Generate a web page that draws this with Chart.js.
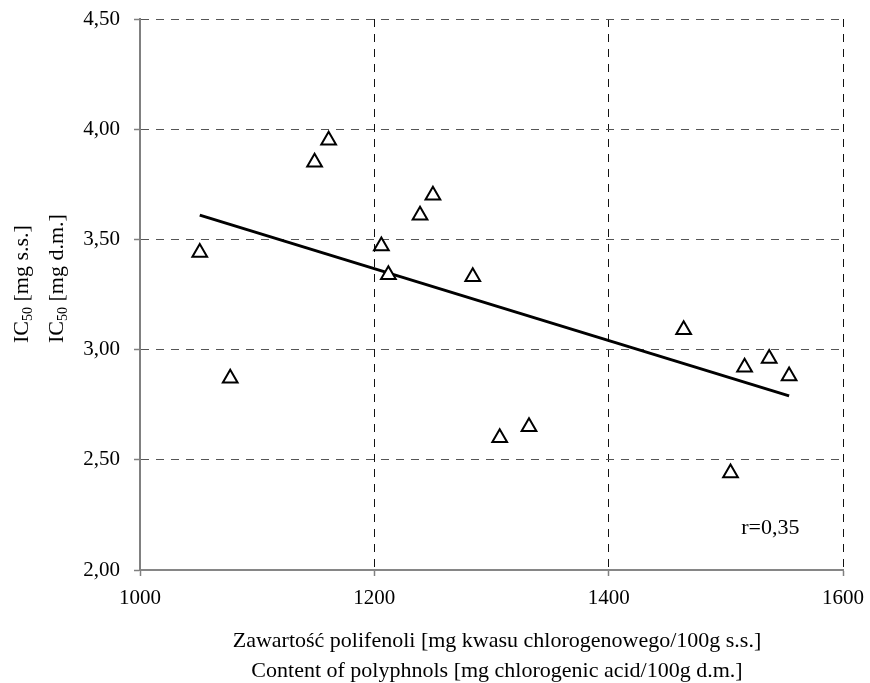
<!DOCTYPE html>
<html>
<head>
<meta charset="utf-8">
<script src="https://cdn.jsdelivr.net/npm/chart.js@4/dist/chart.umd.min.js"></script>
<style>
    body { margin: 0; background: #fff; }
    #can { width: 870px; height: 683px; }
</style>
</head>
<body>
<div id="can"><canvas id="myChart" width="870" height="683"></canvas></div>
<script>
    // polyphenol content (x) and IC50 (y)
    let xValues = [1051, 1077, 1149, 1161, 1206, 1212, 1239, 1250, 1284, 1307, 1332, 1464, 1504, 1516, 1537, 1554];
    let yValues = [3.44, 2.87, 3.85, 3.95, 3.47, 3.34, 3.61, 3.70, 3.33, 2.60, 2.65, 3.09, 2.44, 2.92, 2.96, 2.88];
    // regression line end points
    let trendX = [1051, 1554];
    let trendY = [3.61, 2.79];
    let xTicks = [1000, 1200, 1400, 1600];
    let yTicks = [2.0, 2.5, 3.0, 3.5, 4.0, 4.5];
    let xTitle = ['Zawartość polifenoli [mg kwasu chlorogenowego/100g s.s.]',
                  'Content of polyphnols [mg chlorogenic acid/100g d.m.]'];
    let yTitle = [
        [{ t: 'IC' }, { t: '50', sub: true }, { t: ' [mg s.s.]' }],
        [{ t: 'IC' }, { t: '50', sub: true }, { t: ' [mg d.m.]' }]
    ];
    let rLabel = 'r=0,35';

    const FONT = '"Liberation Serif", "Times New Roman", serif';
    Chart.defaults.color = '#000';
    Chart.defaults.font.family = FONT;
    Chart.defaults.font.size = 21;

    // titles drawn by hand (two lines + subscript)
    const textPlugin = {
        id: 'textPlugin',
        afterDraw(chart) {
            const ctx = chart.ctx;
            const xs = chart.scales.x, ys = chart.scales.y;
            ctx.save();
            ctx.fillStyle = '#000';
            ctx.font = '22px ' + FONT;
            ctx.textAlign = 'center';
            ctx.textBaseline = 'middle';
            xTitle.forEach((t, i) => ctx.fillText(t, 497, 641 + i * 30));

            let yTitleX = [21, 56];
            yTitle.forEach((parts, i) => {
                ctx.save();
                ctx.translate(yTitleX[i], 343);
                ctx.rotate(-Math.PI / 2);
                ctx.textAlign = 'left';
                ctx.textBaseline = 'alphabetic';
                let pos = 0;
                parts.forEach(p => {
                    ctx.font = (p.sub ? '14px ' : '22px ') + FONT;
                    ctx.fillText(p.t, pos, p.sub ? 11 : 7);
                    pos += ctx.measureText(p.t).width;
                });
                ctx.restore();
            });

            ctx.font = '22px ' + FONT;
            ctx.fillText(rLabel, xs.getPixelForValue(1538), ys.getPixelForValue(2.19));
            ctx.restore();
        }
    };

    const ctx = document.getElementById('myChart').getContext('2d');
    var myChart = new Chart(ctx, {
        type: 'scatter',
        data: {
            datasets: [{
                label: 'IC50',
                data: xValues.map((x, i) => ({ x: x, y: yValues[i] })),
                pointStyle: 'triangle',
                radius: 8.5,
                borderWidth: 2,
                borderColor: '#000',
                backgroundColor: '#fff',
                order: 1
            }, {
                label: 'trend',
                type: 'line',
                data: trendX.map((x, i) => ({ x: x, y: trendY[i] })),
                borderColor: '#000',
                borderWidth: 3,
                pointRadius: 0,
                fill: false,
                order: 2
            }]
        },
        options: {
            responsive: false,
            animation: false,
            layout: { padding: { left: 0, top: 19, right: 27, bottom: 0 } },
            plugins: {
                legend: { display: false },
                tooltip: { enabled: false }
            },
            scales: {
                x: {
                    type: 'linear',
                    min: 1000,
                    max: 1600,
                    afterBuildTicks: s => { s.ticks = xTicks.map(v => ({ value: v })); },
                    afterFit: s => { s.height = 113; s.paddingLeft = 0; s.paddingRight = 0; },
                    ticks: { padding: 10, callback: v => String(v) },
                    grid: {
                        color: c => (c.tick && c.tick.value === 1000) ? 'rgba(0,0,0,0)' : '#111',
                        lineWidth: 1,
                        tickLength: 6,
                        tickColor: '#808080',
                        tickWidth: 1.5,
                        tickBorderDash: []
                    },
                    border: { display: true, color: '#868686', width: 2, dash: [8, 7] }
                },
                y: {
                    type: 'linear',
                    min: 2,
                    max: 4.5,
                    afterBuildTicks: s => { s.ticks = yTicks.map(v => ({ value: v })); },
                    afterFit: s => { s.width = 140; s.paddingTop = 0; s.paddingBottom = 0; },
                    ticks: {
                        padding: 14,
                        callback: v => v.toFixed(2).replace('.', ',')
                    },
                    grid: {
                        color: c => (c.tick && c.tick.value === 2) ? 'rgba(0,0,0,0)' : '#555',
                        lineWidth: 1,
                        tickLength: 6,
                        tickColor: '#808080',
                        tickWidth: 1.5,
                        tickBorderDash: []
                    },
                    border: { display: true, color: '#808080', width: 2, dash: [8, 7] }
                }
            }
        },
        plugins: [textPlugin]
    });
</script>
</body>
</html>
